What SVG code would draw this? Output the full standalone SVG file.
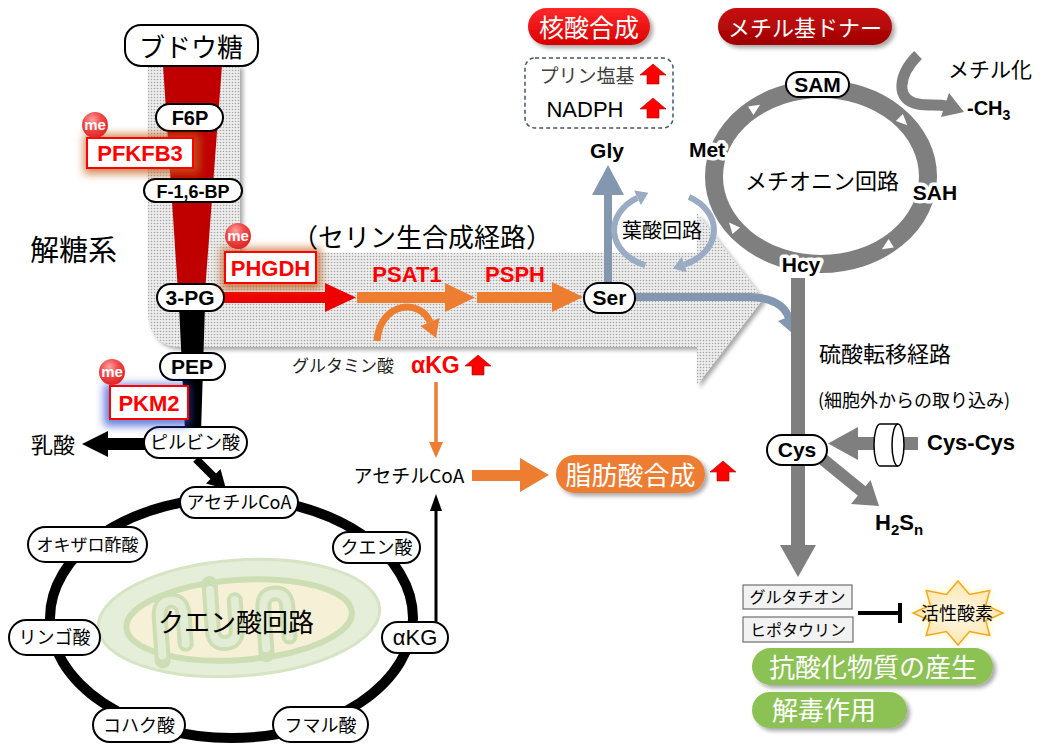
<svg xmlns="http://www.w3.org/2000/svg" width="1043" height="745" viewBox="0 0 1043 745">
<defs>
  <style>
    .node { fill: #fff; stroke: #000; stroke-width: 2; }
    .b { font-family: "Liberation Sans", Arial, sans-serif; font-weight: bold; }
    .r { font-family: "Liberation Sans", Arial, sans-serif; }
    .jp { font-family: "Noto Sans CJK JP", sans-serif; }
    .mid { text-anchor: middle; }
    .halo { paint-order: stroke; stroke: #fff; stroke-width: 7; stroke-linejoin: round; }
    .enz { fill: #fff; stroke: #ff0000; stroke-width: 2; }
    .enzt { font-family: "Liberation Sans", Arial, sans-serif; font-weight: bold; fill: #ff0000; text-anchor: middle; }
    .me { font-family: "Liberation Sans", Arial, sans-serif; font-weight: bold; fill: #fff; font-size: 15px; text-anchor: middle; }
    .box { fill: #f2f2f2; stroke: #6f6f6f; stroke-width: 1.2; }
  </style>
  <pattern id="dots" width="3" height="3" patternUnits="userSpaceOnUse">
    <rect width="3" height="3" fill="#ededed"/>
    <circle cx="1.5" cy="1.5" r="0.8" fill="#a6a6a6"/>
  </pattern>
  <filter id="shadow" x="-10%" y="-10%" width="130%" height="140%">
    <feGaussianBlur in="SourceAlpha" stdDeviation="2"/>
    <feOffset dx="3" dy="3" result="o"/>
    <feComponentTransfer><feFuncA type="linear" slope="0.35"/></feComponentTransfer>
    <feMerge><feMergeNode/><feMergeNode in="SourceGraphic"/></feMerge>
  </filter>
  <filter id="glow" x="-40%" y="-60%" width="180%" height="220%">
    <feGaussianBlur stdDeviation="4"/>
  </filter>
  <radialGradient id="meGrad" cx="0.4" cy="0.3" r="0.75">
    <stop offset="0" stop-color="#ffa0a0"/>
    <stop offset="0.45" stop-color="#f24a4a"/>
    <stop offset="1" stop-color="#dd2020"/>
  </radialGradient>
  <linearGradient id="redPill" x1="0" y1="0" x2="0" y2="1">
    <stop offset="0" stop-color="#ff2a2a"/>
    <stop offset="1" stop-color="#d80000"/>
  </linearGradient>
  <linearGradient id="darkRedPill" x1="0" y1="0" x2="0" y2="1">
    <stop offset="0" stop-color="#c81010"/>
    <stop offset="1" stop-color="#a00000"/>
  </linearGradient>
  <radialGradient id="starFill" cx="0.5" cy="0.5" r="0.5">
    <stop offset="0" stop-color="#fff8e6"/>
    <stop offset="1" stop-color="#fde7b0"/>
  </radialGradient>
  <path id="up" d="M13,0 L26,11 L19,11 L19,20 L7,20 L7,11 L0,11 Z" fill="#ff0000" stroke="#b00000" stroke-width="0.6"/>
</defs>

<rect width="1043" height="745" fill="#fff"/>

<!-- glycolysis / serine pathway background band -->
<g id="band">
  <path d="M148,65 H240 V253 H697 V213 L763,299 L697,385 V347 H183 Q148,347 148,312 Z" fill="url(#dots)" filter="url(#shadow)"/>
  <polygon points="163,65 222,65 205,292 178,292" fill="#c00000"/>
  <polygon points="179,305 205,305 201,432 185,432" fill="#000"/>
</g>

<!-- mitochondrion & TCA ring -->
<g id="mitochondrion" transform="rotate(-4 239 618)">
  <ellipse cx="239" cy="618" rx="141" ry="58" fill="#e5eed8" stroke="#d6e4c3" stroke-width="3"/>
  <ellipse cx="239" cy="620" rx="113" ry="40" fill="#f6f1d6" stroke="#cddeb5" stroke-width="6"/>
  <g fill="none" stroke="#cddeb5" stroke-width="16" stroke-linecap="round">
    <path d="M160,655 V612 Q160,596 172,596 Q184,596 184,612 V640"/>
    <path d="M212,582 V628 Q212,642 224,642 Q236,642 236,628 V600"/>
    <path d="M264,656 V610 Q264,596 276,596 Q288,596 288,610 V640"/>
  </g>
  <g fill="none" stroke="#e3ecd4" stroke-width="8" stroke-linecap="round">
    <path d="M160,650 V612 Q160,596 172,596 Q184,596 184,612 V640"/>
    <path d="M212,588 V628 Q212,642 224,642 Q236,642 236,628 V600"/>
    <path d="M264,650 V610 Q264,596 276,596 Q288,596 288,610 V640"/>
  </g>
</g>
<ellipse id="tca-ring" cx="231.5" cy="618" rx="181.5" ry="120" fill="none" stroke="#000" stroke-width="10"/>
<text class="jp mid" x="236" y="632" font-size="26">クエン酸回路</text>

<!-- methionine cycle ring -->
<g id="met-ring">
  <ellipse cx="821" cy="176.5" rx="107" ry="87.5" fill="none" stroke="#7f7f7f" stroke-width="18"/>
  <g fill="#fff">
    <path d="M-5,-5 L6,0 L-5,5 Z" transform="translate(755 108) rotate(-32)"/>
    <path d="M-5,-5 L6,0 L-5,5 Z" transform="translate(903 121) rotate(44)"/>
    <path d="M-5,-5 L6,0 L-5,5 Z" transform="translate(887 246) rotate(148)"/>
    <path d="M-5,-5 L6,0 L-5,5 Z" transform="translate(733 227) rotate(-131)"/>
  </g>
</g>

<!-- connectors -->
<g id="connectors">
  <!-- serine synthesis -->
  <rect x="222" y="292" width="105" height="11" fill="#ee0000"/>
  <polygon points="325,283 325,312 356,297.5" fill="#ee0000"/>
  <rect x="357" y="292" width="90" height="11" fill="#ed7d31"/>
  <polygon points="445,283 445,312 475,297.5" fill="#ed7d31"/>
  <rect x="477" y="292" width="77" height="11" fill="#ed7d31"/>
  <polygon points="552,282 552,312 583,297" fill="#ed7d31"/>
  <path d="M377,341 C380,302 420,298 430,322" fill="none" stroke="#ed7d31" stroke-width="7"/>
  <polygon points="436,338 439.5,318 420.5,326" fill="#ed7d31"/>

  <!-- alpha-KG to acetyl-CoA to fatty acid -->
  <line x1="436" y1="382" x2="436" y2="444" stroke="#ed7d31" stroke-width="3.5"/>
  <polygon points="429,442 443,442 436,458" fill="#ed7d31"/>
  <rect x="472" y="470" width="50" height="11" fill="#ed7d31"/>
  <polygon points="520,458 520,492 549,475" fill="#ed7d31"/>
  <line x1="436" y1="622" x2="436" y2="508" stroke="#000" stroke-width="3"/>
  <polygon points="430,511 442,511 436,494" fill="#000"/>

  <!-- pyruvate -->
  <rect x="106" y="438" width="40" height="12" fill="#000"/>
  <polygon points="108,431 108,457 82,444" fill="#000"/>
  <line x1="196" y1="459" x2="215" y2="478" stroke="#000" stroke-width="8"/>
  <polygon points="226,489 206,483.5 220.5,469" fill="#000"/>

  <!-- Ser to Gly and to transsulfuration -->
  <rect x="604" y="193" width="8" height="92" fill="#8497b0"/>
  <polygon points="592,195 624,195 608,165" fill="#8497b0"/>
  <path d="M634,297 H750 Q782,298 789,318" fill="none" stroke="#8497b0" stroke-width="8"/>
  <polygon points="792,333 796,314 778,321" fill="#8497b0"/>

  <!-- folate cycle -->
  <g fill="none" stroke="#9aabc4" stroke-width="6">
    <path d="M645.3,265.2 A50,38 0 0 1 637.5,197.8"/>
    <path d="M689,197.1 A50,38 0 0 1 684.3,264.7"/>
  </g>
  <polygon points="648.3,192.7 640.9,205 634.1,190.6" fill="#9aabc4"/>
  <polygon points="672.9,268.6 686.9,272.3 681.7,257.1" fill="#9aabc4"/>

  <!-- methylation -->
  <path d="M918,55 C898,75 895,100 918,104 C928,106 938,104 947,106" fill="none" stroke="#7f7f7f" stroke-width="11"/>
  <polygon points="964,112 941,117 949,93" fill="#7f7f7f"/>

  <!-- transsulfuration -->
  <rect x="791" y="278" width="14" height="268" fill="#7f7f7f"/>
  <polygon points="780,545 816,545 798,577" fill="#7f7f7f"/>
  <rect x="855" y="437" width="20" height="13" fill="#7f7f7f"/>
  <rect x="900" y="437" width="18" height="13" fill="#7f7f7f"/>
  <polygon points="858,427 858,460 828,443.5" fill="#7f7f7f"/>
  <line x1="820" y1="457" x2="863" y2="492" stroke="#7f7f7f" stroke-width="12"/>
  <polygon points="879,506 851,504 870.5,480" fill="#7f7f7f"/>

  <!-- inhibition -->
  <line x1="858" y1="613" x2="900" y2="613" stroke="#000" stroke-width="4"/>
  <line x1="900" y1="603" x2="900" y2="623" stroke="#000" stroke-width="4"/>
</g>

<!-- transporter -->
<g id="transporter">
  <path d="M880,424 H898 A6,21 0 0 1 898,466 H880 A6,21 0 0 1 880,424 Z" fill="#fff" stroke="#000" stroke-width="1.5"/>
  <path d="M898,466 A6,21 0 0 1 898,424" fill="none" stroke="#000" stroke-width="1.5"/>
</g>

<!-- glycolysis nodes -->
<g id="glucose"><rect class="node" x="125" y="25" width="133" height="41" rx="16"/><text class="jp mid" x="191" y="57" font-size="26">ブドウ糖</text></g>
<g id="f6p"><rect class="node" x="156" y="104" width="67" height="27" rx="13.5"/><text class="b mid" x="190" y="125" font-size="20">F6P</text></g>
<g id="f16bp"><rect class="node" x="144" y="179" width="98" height="23" rx="11.5"/><text class="b mid" x="193" y="198" font-size="18">F-1,6-BP</text></g>
<g id="pg3"><rect class="node" x="157" y="284" width="67" height="27" rx="13.5"/><text class="b mid" x="190" y="305" font-size="21">3-PG</text></g>
<g id="pep"><rect class="node" x="160" y="353" width="65" height="27" rx="13.5"/><text class="b mid" x="192" y="374" font-size="21">PEP</text></g>
<g id="pyruvate"><rect class="node" x="144" y="427" width="103" height="31" rx="15.5"/><text class="jp mid" x="195" y="449" font-size="18">ピルビン酸</text></g>

<!-- enzymes -->
<g id="pfkfb3">
  <rect x="84" y="134" width="116" height="40" fill="#c2601e" opacity="0.75" filter="url(#glow)"/>
  <rect class="enz" x="87" y="138" width="106" height="30"/>
  <text class="enzt" x="140" y="161" font-size="22">PFKFB3</text>
  <circle cx="95" cy="125" r="13" fill="url(#meGrad)"/><text class="me" x="95" y="130">me</text>
</g>
<g id="phgdh">
  <rect x="221" y="248" width="100" height="42" fill="#c2601e" opacity="0.75" filter="url(#glow)"/>
  <rect class="enz" x="225" y="252" width="91" height="31"/>
  <text class="enzt" x="270.5" y="276" font-size="22">PHGDH</text>
  <circle cx="238" cy="236" r="13" fill="url(#meGrad)"/><text class="me" x="238" y="241">me</text>
</g>
<g id="pkm2">
  <rect x="104" y="384" width="86" height="42" fill="#2848d0" opacity="0.7" filter="url(#glow)"/>
  <rect class="enz" x="110" y="386" width="78" height="33"/>
  <text class="enzt" x="149" y="411" font-size="22">PKM2</text>
  <circle cx="112" cy="372" r="13" fill="url(#meGrad)"/><text class="me" x="112" y="377">me</text>
</g>
<g id="psat1"><text class="enzt" x="407" y="282" font-size="22">PSAT1</text></g>
<g id="psph"><text class="enzt" x="515" y="282" font-size="22">PSPH</text></g>

<!-- labels -->
<text class="jp" x="30" y="261" font-size="29">解糖系</text>
<text class="jp" x="292" y="247" font-size="26">（セリン生合成経路）</text>
<g id="glutamate"><text class="jp mid" x="343" y="372" font-size="17" fill="#222">グルタミン酸</text></g>
<g id="akg-serine">
  <text class="b" x="411" y="373" font-size="23" fill="#ff0000">αKG</text>
  <use href="#up" x="465" y="355"/>
</g>
<g id="acetylcoa-free"><text class="jp mid" x="409" y="483" font-size="19">アセチルCoA</text></g>
<g id="fatty-acid">
  <rect x="556" y="455" width="149" height="38" rx="19" fill="#ed7d31" filter="url(#shadow)"/>
  <text class="jp mid" x="630.5" y="485" font-size="26" fill="#fff">脂肪酸合成</text>
  <use href="#up" x="710" y="461"/>
</g>
<text class="jp" x="31" y="453" font-size="22">乳酸</text>

<!-- TCA nodes -->
<g id="acetylcoa"><rect class="node" x="180" y="487" width="118" height="31" rx="15.5"/><text class="jp mid" x="239" y="509" font-size="18">アセチルCoA</text></g>
<g id="citrate"><rect class="node" x="333" y="532" width="87" height="31" rx="15.5"/><text class="jp mid" x="376.5" y="554" font-size="18">クエン酸</text></g>
<g id="oxaloacetate"><rect class="node" x="28" y="527" width="119" height="35" rx="17.5"/><text class="jp mid" x="87.5" y="551" font-size="17">オキザロ酢酸</text></g>
<g id="malate"><rect class="node" x="9" y="620" width="91" height="35" rx="17.5"/><text class="jp mid" x="54.5" y="644" font-size="18">リンゴ酸</text></g>
<g id="akg"><rect class="node" x="382" y="622" width="66" height="31" rx="15.5"/><text class="r mid" x="415" y="645" font-size="22">αKG</text></g>
<g id="succinate"><rect class="node" x="93" y="708" width="92" height="34" rx="17"/><text class="jp mid" x="139" y="732" font-size="18">コハク酸</text></g>
<g id="fumarate"><rect class="node" x="273" y="707" width="95" height="35" rx="17.5"/><text class="jp mid" x="320.5" y="732" font-size="18">フマル酸</text></g>

<!-- nucleotide synthesis -->
<g id="nucleic">
  <rect x="528" y="8" width="122" height="37" rx="18.5" fill="url(#redPill)" filter="url(#shadow)"/>
  <text class="jp mid" x="589" y="37" font-size="25" fill="#fff">核酸合成</text>
  <rect x="525" y="58" width="148" height="70" rx="10" fill="none" stroke="#44546a" stroke-width="1.5" stroke-dasharray="4 3"/>
  <text class="jp mid" x="587" y="83" font-size="19" fill="#404040">プリン塩基</text>
  <use href="#up" x="640" y="64"/>
  <text class="r mid" x="585" y="117" font-size="22">NADPH</text>
  <use href="#up" x="640" y="98"/>
</g>
<g id="ser"><rect class="node" x="584" y="283" width="51" height="30" rx="15"/><text class="b mid" x="609.5" y="305" font-size="21">Ser</text></g>
<g id="gly"><text class="b mid" x="607" y="158" font-size="21">Gly</text></g>
<text class="jp mid" x="662" y="238" font-size="20">葉酸回路</text>

<!-- methionine cycle labels -->
<g id="methyl-donor">
  <rect x="718" y="8" width="174" height="37" rx="18.5" fill="url(#darkRedPill)" filter="url(#shadow)"/>
  <text class="jp mid" x="805" y="36" font-size="22" fill="#fff">メチル基ドナー</text>
</g>
<g id="sam"><rect class="node" x="786" y="72" width="63" height="25" rx="12.5"/><text class="b mid" x="817.5" y="92" font-size="21">SAM</text></g>
<g id="met"><text class="b mid halo" x="707" y="157" font-size="21">Met</text></g>
<g id="sah"><text class="b mid halo" x="935" y="200" font-size="21">SAH</text></g>
<g id="hcy"><text class="b mid halo" x="801" y="272" font-size="21">Hcy</text></g>
<text class="jp mid" x="822" y="189" font-size="22">メチオニン回路</text>
<text class="jp mid" x="990" y="77" font-size="21">メチル化</text>
<text class="b" x="967" y="115" font-size="20">-CH<tspan font-size="14" dy="5">3</tspan></text>

<!-- transsulfuration labels -->
<text class="jp" x="819" y="362" font-size="22">硫酸転移経路</text>
<text class="jp" x="818" y="407" font-size="18">(細胞外からの取り込み)</text>
<g id="cys"><rect class="node" x="767" y="435" width="60" height="30" rx="15"/><text class="b mid" x="797" y="457" font-size="21">Cys</text></g>
<g id="cyscys"><text class="b" x="927" y="450" font-size="22">Cys-Cys</text></g>
<g id="h2sn"><text class="b" x="875" y="530" font-size="22">H<tspan font-size="15" dy="5">2</tspan><tspan dy="-5">S</tspan><tspan font-size="15" dy="5">n</tspan></text></g>

<!-- antioxidants -->
<g id="glutathione"><rect class="box" x="743" y="585" width="109" height="24"/><text class="jp mid" x="797.5" y="603" font-size="16">グルタチオン</text></g>
<g id="hypotaurine"><rect class="box" x="743" y="617" width="110" height="25"/><text class="jp mid" x="798" y="636" font-size="16">ヒポタウリン</text></g>
<g id="ros">
  <polygon points="958,581 969.5,594.5 989.8,590.4 985.7,605.3 1003,613 985.7,620.7 989.8,635.6 969.5,631.5 958,645 946.5,631.5 926.2,635.6 930.3,620.7 913,613 930.3,605.3 926.2,590.4 946.5,594.5" fill="#fff36a" opacity="0.6" filter="url(#glow)"/>
  <polygon points="958,581 969.5,594.5 989.8,590.4 985.7,605.3 1003,613 985.7,620.7 989.8,635.6 969.5,631.5 958,645 946.5,631.5 926.2,635.6 930.3,620.7 913,613 930.3,605.3 926.2,590.4 946.5,594.5" fill="url(#starFill)" stroke="#f5a623" stroke-width="1.5"/>
  <text class="jp mid" x="957" y="620" font-size="18">活性酸素</text>
</g>
<g id="antioxidant">
  <rect x="752" y="648" width="241" height="37" rx="18.5" fill="#8cc152" filter="url(#shadow)"/>
  <text class="jp mid" x="873" y="677" font-size="26" fill="#fff">抗酸化物質の産生</text>
</g>
<g id="detox">
  <rect x="752" y="692" width="155" height="36" rx="18" fill="#8cc152" filter="url(#shadow)"/>
  <text class="jp mid" x="824" y="720" font-size="26" fill="#fff">解毒作用</text>
</g>
</svg>
